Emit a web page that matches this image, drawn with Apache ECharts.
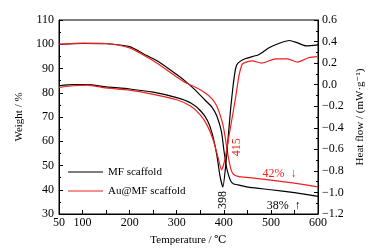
<!DOCTYPE html>
<html>
<head>
<meta charset="utf-8">
<style>
    html, body { margin: 0; padding: 0; background: #fff; }
    #chart { width: 375px; height: 251px; }
</style>
<script src="https://cdn.jsdelivr.net/npm/echarts/dist/echarts.min.js"></script>
</head>
<body>
<div id="chart"></div>
<script>
// TG curves (weight %, left axis)
const tgTemp = [50, 100, 150, 200, 230, 260, 300, 320, 340, 360, 375, 385, 395, 400, 405, 410, 415, 420, 430, 455, 500, 550, 600];
const tgMF = [100, 100.3, 100.2, 99, 96, 93, 87.5, 84.5, 81, 77, 74, 70.5, 64, 56.5, 50, 46, 43.5, 42.5, 42, 41, 40, 38.8, 37.3];
const tgAu = [100, 100.5, 100.3, 98.5, 95.5, 92, 86.5, 84, 82.3, 80, 77.5, 74.5, 69, 65, 59, 53, 48.5, 46.5, 45.5, 45, 44, 42.7, 41.2];

// DSC curves (heat flow, right axis)
const dscTempMF = [50, 80, 110, 150, 200, 250, 300, 330, 350, 365, 375, 385, 392, 398, 404, 410, 415, 420, 425, 430, 445, 475, 495, 515, 540, 555, 575, 600];
const dscMF = [-0.01, 0.0, 0.0, -0.02, -0.04, -0.07, -0.12, -0.17, -0.24, -0.33, -0.45, -0.65, -0.85, -0.95, -0.75, -0.45, -0.2, 0.0, 0.15, 0.2, 0.24, 0.28, 0.34, 0.38, 0.41, 0.39, 0.36, 0.37];
const dscTempAu = [50, 80, 110, 150, 200, 250, 300, 330, 350, 365, 378, 388, 395, 402, 410, 418, 425, 432, 438, 442, 460, 480, 510, 535, 557, 580, 600];
const dscAu = [-0.025, -0.01, -0.005, -0.03, -0.05, -0.09, -0.14, -0.2, -0.28, -0.38, -0.52, -0.68, -0.79, -0.7, -0.5, -0.3, -0.12, 0.08, 0.18, 0.2, 0.22, 0.2, 0.24, 0.24, 0.21, 0.25, 0.26];

const seriesNames = ['MF scaffold', 'Au@MF scaffold'];
const xTicks = [50, 100, 200, 300, 400, 500, 600];

// text notes: [text, temperature, value, yAxisIndex, colour index, rotated]
const notes = [
    ['398', 398, -1.07, 1, 0, true],
    ['415', 428, -0.58, 1, 1, true],
    ['42%  ↓', 518, 46.5, 0, 1, false],
    ['38%  ↑', 527, 33.3, 0, 0, false]
];

const colors = ['#000000', '#f0201c'];
const font = '"Liberation Serif", "DejaVu Serif", serif';

function pairs(xs, ys) {
    return xs.map((x, i) => [x, ys[i]]);
}

function fmtNum(v) {
    return v.toFixed(1).replace('-', '\u2212');
}

const myEcharts = echarts.init(document.getElementById('chart'));

const option = {
    animation: false,
    grid: {
        left: 59,
        right: 57,
        top: 20,
        bottom: 37,
        show: true,
        borderColor: '#000',
        borderWidth: 1
    },
    legend: {
        orient: 'vertical',
        left: 63,
        top: 161,
        icon: 'rect',
        itemWidth: 35,
        itemHeight: 1.2,
        itemGap: 7,
        data: seriesNames,
        textStyle: {
            color: '#000',
            fontFamily: font,
            fontSize: 11,
            lineHeight: 12
        }
    },
    xAxis: {
        type: 'value',
        min: 50,
        max: 600,
        interval: 50,
        name: 'Temperature / \u2103',
        nameLocation: 'middle',
        nameGap: 21,
        nameTextStyle: { color: '#000', fontFamily: font, fontSize: 11 },
        axisLine: { onZero: false, lineStyle: { color: '#000', width: 1 } },
        axisTick: { inside: true, length: 4, lineStyle: { color: '#000' } },
        axisLabel: {
            color: '#000',
            fontFamily: font,
            fontSize: 12,
            margin: 3,
            formatter: v => (xTicks.indexOf(v) >= 0 ? String(v) : '')
        },
        splitLine: { show: false }
    },
    yAxis: [{
        type: 'value',
        min: 30,
        max: 110,
        interval: 10,
        name: 'Weight / %',
        nameLocation: 'middle',
        nameRotate: 90,
        nameGap: 26,
        nameTextStyle: { color: '#000', fontFamily: font, fontSize: 11 },
        axisLine: { show: true, lineStyle: { color: '#000', width: 1 } },
        axisTick: { inside: true, length: 4, lineStyle: { color: '#000' } },
        minorTick: { show: true, splitNumber: 2, length: 2, lineStyle: { color: '#000' } },
        axisLabel: { color: '#000', fontFamily: font, fontSize: 12, margin: 5 },
        splitLine: { show: false }
    }, {
        type: 'value',
        min: -1.2,
        max: 0.6,
        interval: 0.2,
        position: 'right',
        name: 'Heat flow / (mW\u00b7g\u207b\u00b9)',
        nameLocation: 'middle',
        nameRotate: 90,
        nameGap: 31,
        nameTextStyle: { color: '#000', fontFamily: font, fontSize: 11 },
        axisLine: { show: true, lineStyle: { color: '#000', width: 1 } },
        axisTick: { inside: true, length: 4, lineStyle: { color: '#000' } },
        minorTick: { show: true, splitNumber: 2, length: 2, lineStyle: { color: '#000' } },
        axisLabel: { color: '#000', fontFamily: font, fontSize: 12, margin: 4, formatter: fmtNum },
        splitLine: { show: false }
    }],
    series: [{
        name: seriesNames[0],
        type: 'line',
        data: pairs(tgTemp, tgMF),
        symbol: 'none',
        smooth: 0.2,
        lineStyle: { color: colors[0], width: 1.2 },
        itemStyle: { color: colors[0] }
    }, {
        name: seriesNames[1],
        type: 'line',
        data: pairs(tgTemp, tgAu),
        symbol: 'none',
        smooth: 0.2,
        lineStyle: { color: colors[1], width: 1.2 },
        itemStyle: { color: colors[1] }
    }, {
        name: seriesNames[0],
        type: 'line',
        yAxisIndex: 1,
        data: pairs(dscTempMF, dscMF),
        symbol: 'none',
        smooth: 0.2,
        lineStyle: { color: colors[0], width: 1.2 },
        itemStyle: { color: colors[0] }
    }, {
        name: seriesNames[1],
        type: 'line',
        yAxisIndex: 1,
        data: pairs(dscTempAu, dscAu),
        symbol: 'none',
        smooth: 0.2,
        lineStyle: { color: colors[1], width: 1.2 },
        itemStyle: { color: colors[1] }
    }]
};

myEcharts.setOption(option);

// place notes from data coordinates
const graphics = notes.map(n => {
    const p = myEcharts.convertToPixel({ xAxisIndex: 0, yAxisIndex: n[3] }, [n[1], n[2]]);
    return {
        type: 'text',
        x: p[0],
        y: p[1],
        rotation: n[5] ? Math.PI / 2 : 0,
        style: {
            text: n[0],
            fill: colors[n[4]],
            font: '12px ' + font,
            align: 'center',
            verticalAlign: 'middle'
        }
    };
});
myEcharts.setOption({ graphic: graphics });
</script>
</body>
</html>
